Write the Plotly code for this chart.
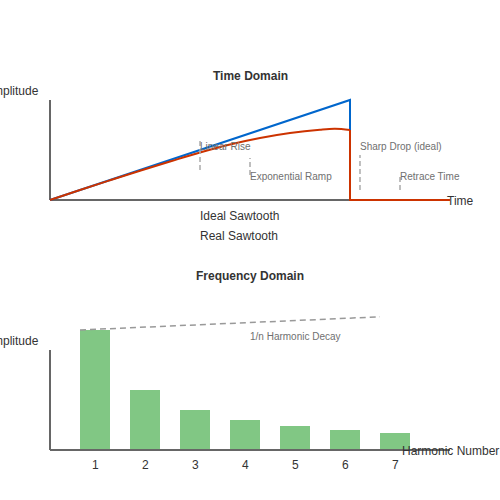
import plotly.graph_objects as go

# ---- data ----
ideal_time = [0, 1.0, 1.0, 1.3333]
ideal_amp = [0, 1.0, 0, 0]

ramp_time = [0, 0.1, 0.2, 0.3, 0.4, 0.5, 0.6, 0.7, 0.8, 0.9, 0.95, 1.0]
ramp_amp = [0, 0.10, 0.198, 0.293, 0.385, 0.475, 0.555, 0.62, 0.67, 0.703, 0.712, 0.70]
retrace_time = [1.0, 1.0, 1.3333]
retrace_amp = [0.70, 0, 0]

harmonics = [1, 2, 3, 4, 5, 6, 7]
harmonic_amp = [1.0, 0.5, 0.333, 0.25, 0.2, 0.167, 0.143]
tick_labels = ["1", "2", "3", "4", "5", "6", "7"]

decay_n = [0.7, 6.7]
decay_amp = [1.0, 1.11]

# time-domain notes: (time, amp top, amp bottom, text, text amp)
notes_top = [
    (0.5, 0.60, 0.30, "Linear Rise", 0.54),
    (0.6667, 0.42, 0.25, "Exponential Ramp", 0.24),
    (1.0333, 0.45, 0.10, "Sharp Drop (ideal)", 0.54),
    (1.1667, 0.25, 0.10, "Retrace Time", 0.24),
]

FONT = "Liberation Sans, Arial, sans-serif"
AXIS = "#666666"
NOTE = "#707070"
TEXT = "#333333"

fig = go.Figure()

fig.add_trace(go.Scatter(x=ideal_time, y=ideal_amp, mode="lines",
                         line=dict(color="#0066cc", width=2), xaxis="x", yaxis="y",
                         showlegend=False, hoverinfo="skip"))
fig.add_trace(go.Scatter(x=ramp_time, y=ramp_amp, mode="lines",
                         line=dict(color="#cc3300", width=2, shape="spline"), xaxis="x", yaxis="y",
                         showlegend=False, hoverinfo="skip"))
fig.add_trace(go.Scatter(x=retrace_time, y=retrace_amp, mode="lines",
                         line=dict(color="#cc3300", width=2), xaxis="x", yaxis="y",
                         showlegend=False, hoverinfo="skip"))

fig.add_trace(go.Bar(x=harmonics, y=harmonic_amp, width=0.6,
                     marker=dict(color="#81c784", line=dict(width=0)),
                     xaxis="x2", yaxis="y2", showlegend=False, hoverinfo="skip"))
fig.add_trace(go.Scatter(x=decay_n, y=decay_amp, mode="lines",
                         line=dict(color="#999999", width=1.5, dash="6px,4px"),
                         xaxis="x2", yaxis="y2", showlegend=False, hoverinfo="skip"))

shapes = [
    # top axes
    dict(type="line", xref="x", yref="y", x0=0, x1=1.3333, y0=0, y1=0,
         line=dict(color=AXIS, width=2), layer="below"),
    dict(type="line", xref="x", yref="y", x0=0, x1=0, y0=0, y1=1.0,
         line=dict(color=AXIS, width=2), layer="below"),
    # bottom axes
    dict(type="line", xref="x2", yref="y2", x0=0.1, x1=8.1, y0=0, y1=0,
         line=dict(color=AXIS, width=2), layer="above"),
    dict(type="line", xref="x2", yref="y2", x0=0.1, x1=0.1, y0=0, y1=0.8333,
         line=dict(color=AXIS, width=2), layer="above"),
]
annotations = []
for t, a0, a1, txt, ta in notes_top:
    shapes.append(dict(type="line", xref="x", yref="y", x0=t, x1=t, y0=a1, y1=a0,
                       line=dict(color="#aaaaaa", width=1.5, dash="5px,3px")))
    annotations.append(dict(x=t - 0.006, y=ta, xref="x", yref="y", text=txt, showarrow=False,
                            xanchor="left", yanchor="middle",
                            font=dict(family=FONT, size=10, color=NOTE)))

annotations.append(dict(x=4.06, y=0.95, xref="x2", yref="y2", text="1/n Harmonic Decay",
                        showarrow=False, xanchor="left", yanchor="middle",
                        font=dict(family=FONT, size=10, color=NOTE)))

for n, lab in zip(harmonics, tick_labels):
    annotations.append(dict(x=n, y=-0.125, xref="x2", yref="y2", text=lab, showarrow=False,
                            xanchor="center", yanchor="middle",
                            font=dict(family=FONT, size=12, color=TEXT)))


def paper_text(px, py, txt, anchor="center", size=12, bold=False, color=TEXT):
    annotations.append(dict(x=px / 500, y=1 - py / 500, xref="paper", yref="paper",
                            text=f"<b>{txt}</b>" if bold else txt, showarrow=False,
                            xanchor=anchor, yanchor="middle",
                            font=dict(family=FONT, size=size, color=color)))


paper_text(250, 76, "Time Domain", bold=True)
paper_text(41, 91, "Amplitude", anchor="right")
paper_text(445, 201, "Time", anchor="left")
paper_text(198, 216, "Ideal Sawtooth", anchor="left")
paper_text(198, 236, "Real Sawtooth", anchor="left")
paper_text(250, 276, "Frequency Domain", bold=True)
paper_text(41, 341, "Amplitude", anchor="right")
paper_text(400, 451, "Harmonic Number", anchor="left")

hidden = dict(visible=False, showgrid=False, zeroline=False, fixedrange=True)
fig.update_layout(
    width=500, height=500,
    margin=dict(l=0, r=0, t=0, b=0),
    paper_bgcolor="white", plot_bgcolor="rgba(0,0,0,0)",
    xaxis=dict(range=[-0.16667, 1.5], domain=[0, 1], anchor="y", **hidden),
    yaxis=dict(range=[-0.5, 1.4], domain=[0.5, 0.88], anchor="x", **hidden),
    xaxis2=dict(range=[-0.9, 9.1], domain=[0, 1], anchor="y2", **hidden),
    yaxis2=dict(range=[-0.25, 1.58333], domain=[0.04, 0.48], anchor="x2", **hidden),
    shapes=shapes,
    annotations=annotations,
    showlegend=False,
    bargap=0,
)

fig.write_html("out.html", config={"displayModeBar": False},
               post_script="document.body.style.margin='0';document.body.style.padding='0';")
